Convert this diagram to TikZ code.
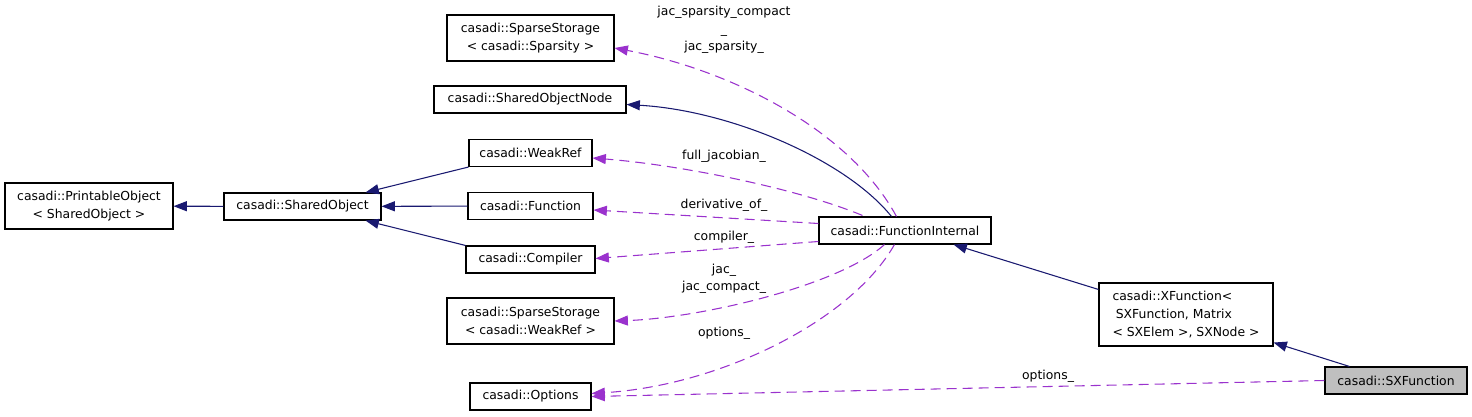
\documentclass[tikz,border=0pt]{standalone}
\usepackage{fontspec}
\setmainfont{DejaVu Sans}
\usetikzlibrary{calc, arrows.meta}
\definecolor{edgenavy}{HTML}{191970}
\definecolor{usepurple}{HTML}{9A32CD}
\definecolor{curgray}{HTML}{BFBFBF}

\tikzset{
  cls/.style={draw=black, line width=0.8pt, fill=white, inner sep=2pt,
    minimum height=20.25pt, align=center, font=\fontsize{9.3}{13.5}\selectfont},
  lbl/.style={inner sep=0pt, align=center, font=\fontsize{9.3}{13}\selectfont},
  inh/.style={draw=edgenavy, line width=0.8pt, -{Triangle[length=10pt,width=7.5pt]}},
  usage/.style={draw=usepurple, line width=0.8pt, dash pattern=on 7.5pt off 4.5pt,
    -{Triangle[length=10pt,width=7.5pt]}},
}

\begin{document}
\begin{tikzpicture}[x=0.75pt, y=-0.75pt]
  \useasboundingbox (0,0) rectangle (1472,417);

  % classes
  \node[cls, minimum width=126pt, minimum height=34.5pt] (printobj) at (89,206)
    {casadi::PrintableObject\\< SharedObject >};
  \node[cls, minimum width=117.75pt] (sharedobj) at (302.5,206.5) {casadi::SharedObject};
  \node[cls, minimum width=125.25pt, minimum height=34.5pt] (spsparsity) at (530.5,38)
    {casadi::SparseStorage\\< casadi::Sparsity >};
  \node[cls, minimum width=144pt] (sonode) at (530,99.5) {casadi::SharedObjectNode};
  \node[cls, minimum width=92.25pt] (weakref) at (530.5,153) {casadi::WeakRef};
  \node[cls, minimum width=93.75pt] (function) at (530.5,206) {casadi::Function};
  \node[cls, minimum width=96.75pt] (compiler) at (530.5,259.5) {casadi::Compiler};
  \node[cls, minimum width=125.25pt, minimum height=34.5pt] (spweakref) at (530.5,321)
    {casadi::SparseStorage\\< casadi::WeakRef >};
  \node[cls, minimum width=90.75pt] (options) at (530.5,396.5) {casadi::Options};
  \node[cls, minimum width=129pt] (funcint) at (905,230.5) {casadi::FunctionInternal};
  \node[cls, minimum width=130.5pt, minimum height=47.25pt, align=left] (xfunc) at (1186,314.5)
    {casadi::XFunction<\\\hspace*{2.5pt}SXFunction, Matrix\\< SXElem >, SXNode >};
  \node[cls, fill=curgray, minimum width=106.5pt] (sxfunc) at (1396,380.5) {casadi::SXFunction};

  % inheritance
  \draw[inh] (sharedobj) -- (printobj);
  \draw[inh] (weakref.south west) -- ($(sharedobj.north east)+(-16,0)$);
  \draw[inh] (function) -- (sharedobj);
  \draw[inh] (compiler.north west) -- ($(sharedobj.south east)+(-16,0)$);
  \draw[inh] ($(funcint.north west)+(73,0)$) .. controls +(-46,-57) and +(104,6) .. ($(sonode.east)+(0,5)$);
  \draw[inh] ($(xfunc.north west)+(0,7)$) -- ($(funcint.south east)+(-38,0)$);
  \draw[inh] ($(sxfunc.north west)+(25,0)$) -- ($(xfunc.south east)+(0,-4)$);

  % usage
  \draw[usage] ($(funcint.north west)+(78,0)$) .. controls +(-47,-87) and +(116,22) .. ($(spsparsity.east)+(0,10)$);
  \draw[usage] ($(funcint.north west)+(44,-1)$) .. controls +(-65,-27) and +(88,7) .. ($(weakref.east)+(0,5)$);
  \draw[usage] ($(funcint.west)+(0,-7)$) -- ($(function.east)+(0,4)$);
  \draw[usage] ($(funcint.west)+(0,11)$) -- ($(compiler.east)+(0,-1)$);
  \draw[usage] ($(funcint.south west)+(66,0)$) .. controls +(-45,41) and +(86,-3) .. (spweakref.east);
  \draw[usage] ($(funcint.south west)+(76,0)$) .. controls +(-43,76) and +(129,-8) .. ($(options.east)+(0,-3)$);
  \draw[usage] (sxfunc.west) -- (options.east);

  % labels
  \node[lbl] (lbljacsp) at (724,30) {jac\_sparsity\_compact\\\_\\jac\_sparsity\_};
  \node[lbl] (lblfulljac) at (724,156) {full\_jacobian\_};
  \node[lbl] (lblderiv) at (724,205) {derivative\_of\_};
  \node[lbl] (lblcompiler) at (724,237) {compiler\_};
  \node[lbl] (lbljac) at (724,279) {jac\_\\jac\_compact\_};
  \node[lbl] (lbloptfi) at (724,333) {options\_};
  \node[lbl] (lbloptsx) at (1048,376) {options\_};
\end{tikzpicture}
\end{document}
